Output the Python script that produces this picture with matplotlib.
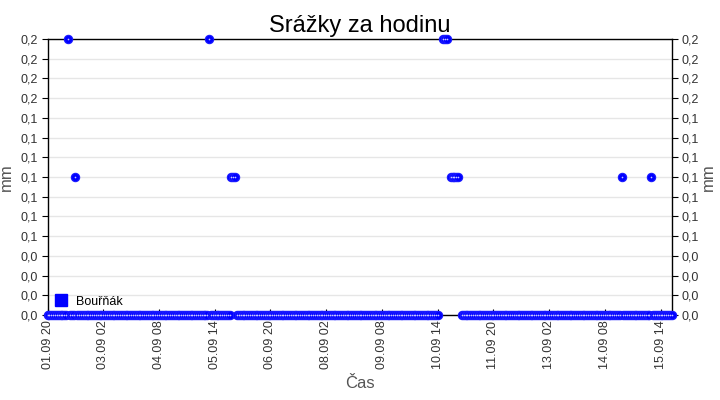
import matplotlib
matplotlib.use("Agg")
import matplotlib.pyplot as plt
from matplotlib.lines import Line2D
import numpy as np
import pandas as pd

plt.rcParams['font.family'] = ['Liberation Sans', 'DejaVu Sans']

# ---- data (hourly precipitation, mm) ----
start_time = "2020-09-01 20:00"
end_time = "2020-09-15 20:00"
# non-zero readings
rain_times = ["2020-09-02 07:00", "2020-09-02 11:00", "2020-09-05 11:00",
              "2020-09-05 23:00", "2020-09-06 00:00", "2020-09-06 01:00",
              "2020-09-10 17:00", "2020-09-10 18:00", "2020-09-10 19:00",
              "2020-09-10 21:00", "2020-09-10 22:00", "2020-09-10 23:00",
              "2020-09-11 00:00", "2020-09-11 01:00",
              "2020-09-14 17:00", "2020-09-15 09:00"]
rain_values = [0.2, 0.1, 0.2,
               0.1, 0.1, 0.1,
               0.2, 0.2, 0.2,
               0.1, 0.1, 0.1,
               0.1, 0.1,
               0.1, 0.1]
# hours without a reading
missing_times = ["2020-09-10 15:00", "2020-09-10 16:00",
                 "2020-09-10 20:00", "2020-09-11 02:00"]
series_name = "Bouřňák"
title = "Srážky za hodinu"
x_label = "Čas"
y_label = "mm"
y_max = 0.2
n_yticks = 15
xtick_step_hours = 30

times = pd.date_range(start_time, end_time, freq="h")
values = pd.Series(0.0, index=times)
values[pd.to_datetime(rain_times)] = rain_values
values[pd.to_datetime(missing_times)] = np.nan

# ---- figure ----
fig = plt.figure(figsize=(7.2, 4.0), dpi=100)
ax = fig.add_axes([0.066, 0.2125, 0.867, 0.69])

ax.plot(values.index, values.values, linestyle='none', marker='o',
        markersize=6.0, markeredgewidth=0.8, markerfacecolor='#0000ff',
        markeredgecolor='#1a1aff', clip_on=False, zorder=5)
# light inner speckle like the reference rendering
ax.plot(values.index, values.values, linestyle='none', marker='o',
        markersize=1.2, markeredgewidth=0, markerfacecolor='#c8c8ff',
        clip_on=False, zorder=6)

ax.set_xlim(times[0], times[-1])
ax.set_ylim(0, y_max)
yt = np.linspace(0, y_max, n_yticks)
fmt = lambda v, p=None: f"{v:.1f}".replace('.', ',')
ax.set_yticks(yt)
ax.yaxis.set_major_formatter(plt.FuncFormatter(fmt))
ax.grid(axis='y', color='#e6e6e6', linewidth=1)
ax.set_axisbelow(True)

xt = pd.date_range(start_time, end_time, freq=f"{xtick_step_hours}h")
ax.set_xticks(xt)
ax.set_xticklabels([t.strftime("%d.%m %H") for t in xt], rotation=90,
                   fontsize=9, color='#333333')
ax.tick_params(axis='x', direction='in', length=4, pad=4)
ax.tick_params(axis='y', direction='out', length=4, labelsize=9,
               colors='black', labelcolor='#333333', right=True,
               labelright=True, pad=3)

for s in ax.spines.values():
    s.set_color('black')
    s.set_linewidth(1)

ax.set_title(title, fontsize=17, pad=5)
ax.set_xlabel(x_label, fontsize=12, color='#555555', labelpad=5)
ax.set_ylabel(y_label, fontsize=12, color='#555555', labelpad=5)
ax.text(1.058, 0.5, y_label, transform=ax.transAxes, rotation=90,
        fontsize=12, color='#555555', ha='center', va='center')

handle = Line2D([], [], linestyle='none', marker='s', markersize=8,
                color='#0000ff')
ax.legend([handle], [series_name], loc='lower left', frameon=False,
          fontsize=9, bbox_to_anchor=(0.0, -0.005), handletextpad=0.8,
          handlelength=0.8, borderaxespad=0.3)

fig.savefig("out.png", dpi=100)
